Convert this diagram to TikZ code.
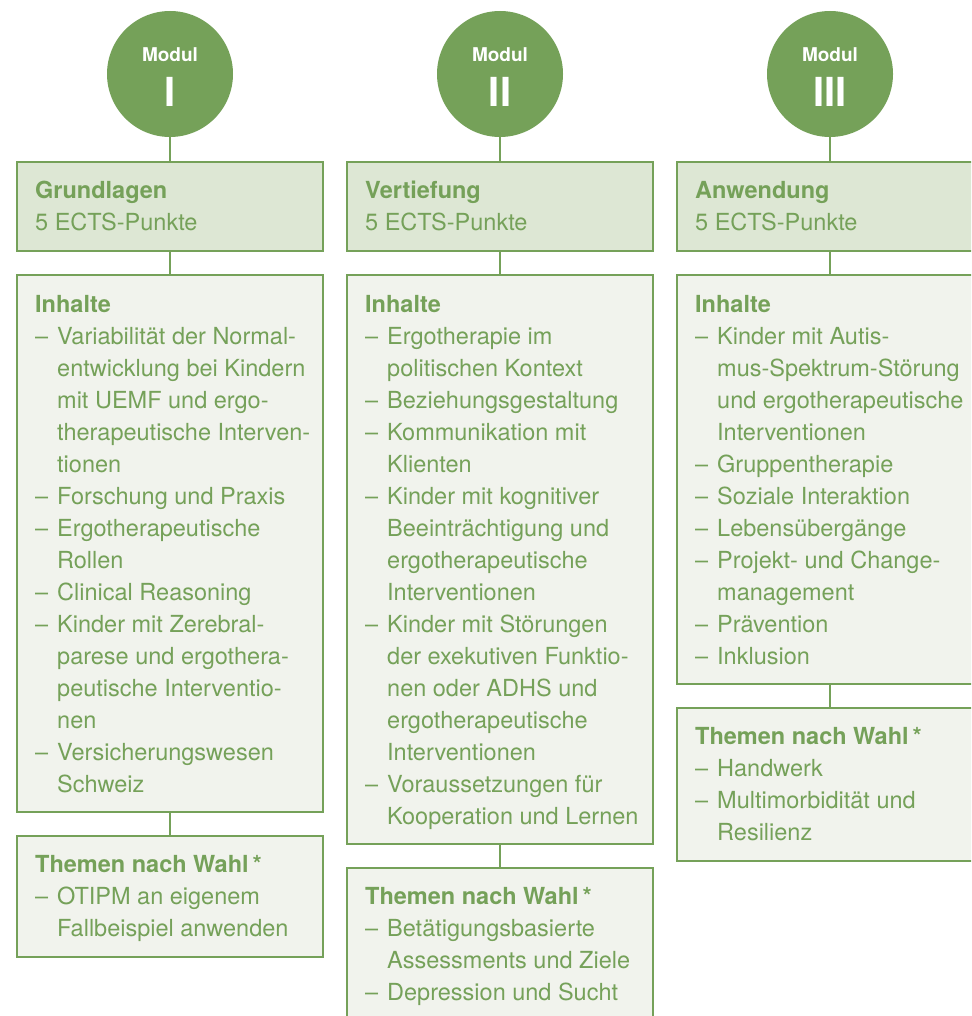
\documentclass[tikz,border=0pt]{standalone}
\usepackage{fontspec}
\setmainfont{TeX Gyre Heros}
\definecolor{mgreen}{RGB}{117,161,89}
\definecolor{hfill}{RGB}{221,231,212}
\definecolor{ifill}{RGB}{241,243,237}
\newcommand\ditem[1]{\makebox[22pt][l]{–}#1}
\newcommand\dcont[1]{\hspace*{22pt}#1}
\newcommand\boxtext[1]{\begin{minipage}[t]{300pt}\setlength\parindent{0pt}\fontsize{23.5pt}{32pt}\selectfont#1\end{minipage}}
\begin{document}
\begin{tikzpicture}[x=1pt,y=-1pt,
  circ/.style={circle, fill=mgreen, minimum size=126pt, inner sep=0pt, outer sep=0pt},
  hdr/.style={draw=mgreen, line width=2pt, fill=hfill, anchor=north west, minimum width=306pt, inner sep=0pt, outer sep=0pt},
  cbox/.style={hdr, fill=ifill},
  conn/.style={draw=mgreen, line width=2pt},
  txt/.style={anchor=base west, inner sep=0pt, text=mgreen},
  modl/.style={text=white, font=\fontsize{19pt}{20pt}\selectfont\bfseries, anchor=base, inner sep=0pt},
  modn/.style={text=white, font=\fontsize{40pt}{40pt}\selectfont\bfseries, anchor=base, inner sep=0pt}]
\useasboundingbox (0,0) rectangle (971,1016);
\clip (0,0) rectangle (971,1016);

% Column 1
\node[circ] (m1) at (170,74) {};
\node[modl] (m1a) at (170,62) {Modul};
\node[modn] (m1b) at (170,107) {I};
\node[hdr, minimum height=89pt] (h1) at (17,162) {};
\node[cbox, minimum height=537pt] (i1) at (17,275) {};
\node[cbox, minimum height=121pt] (t1) at (17,836) {};
\draw[conn] (m1.south) -- (h1.north);
\draw[conn] (h1.south) -- (i1.north);
\draw[conn] (i1.south) -- (t1.north);
\node[txt] (h1t) at ([xshift=18pt,yshift=-37pt]h1.north west) {\boxtext{\textbf{Grundlagen}\\5 ECTS-Punkte}};
\node[txt] (i1t) at ([xshift=18pt,yshift=-37pt]i1.north west) {\boxtext{\textbf{Inhalte}\\
\ditem{Variabilität der Normal-}\\
\dcont{entwicklung bei Kindern}\\
\dcont{mit UEMF und ergo-}\\
\dcont{therapeutische Interven-}\\
\dcont{tionen}\\
\ditem{Forschung und Praxis}\\
\ditem{Ergotherapeutische}\\
\dcont{Rollen}\\
\ditem{Clinical Reasoning}\\
\ditem{Kinder mit Zerebral-}\\
\dcont{parese und ergothera-}\\
\dcont{peutische Interventio-}\\
\dcont{nen}\\
\ditem{Versicherungswesen}\\
\dcont{Schweiz}}};
\node[txt] (t1t) at ([xshift=18pt,yshift=-36pt]t1.north west) {\boxtext{\textbf{Themen nach Wahl\,*}\\
\ditem{OTIPM an eigenem}\\
\dcont{Fallbeispiel anwenden}}};

% Column 2
\node[circ] (m2) at (500,74) {};
\node[modl] (m2a) at (500,62) {Modul};
\node[modn] (m2b) at (500,107) {II};
\node[hdr, minimum height=89pt] (h2) at (347,162) {};
\node[cbox, minimum height=569pt] (i2) at (347,275) {};
\node[cbox, minimum height=153pt] (t2) at (347,868) {};
\draw[conn] (m2.south) -- (h2.north);
\draw[conn] (h2.south) -- (i2.north);
\draw[conn] (i2.south) -- (t2.north);
\node[txt] (h2t) at ([xshift=18pt,yshift=-37pt]h2.north west) {\boxtext{\textbf{Vertiefung}\\5 ECTS-Punkte}};
\node[txt] (i2t) at ([xshift=18pt,yshift=-37pt]i2.north west) {\boxtext{\textbf{Inhalte}\\
\ditem{Ergotherapie im}\\
\dcont{politischen Kontext}\\
\ditem{Beziehungsgestaltung}\\
\ditem{Kommunikation mit}\\
\dcont{Klienten}\\
\ditem{Kinder mit kognitiver}\\
\dcont{Beeinträchtigung und}\\
\dcont{ergotherapeutische}\\
\dcont{Interventionen}\\
\ditem{Kinder mit Störungen}\\
\dcont{der exekutiven Funktio-}\\
\dcont{nen oder ADHS und}\\
\dcont{ergotherapeutische}\\
\dcont{Interventionen}\\
\ditem{Voraussetzungen für}\\
\dcont{Kooperation und Lernen}}};
\node[txt] (t2t) at ([xshift=18pt,yshift=-36pt]t2.north west) {\boxtext{\textbf{Themen nach Wahl\,*}\\
\ditem{Betätigungsbasierte}\\
\dcont{Assessments und Ziele}\\
\ditem{Depression und Sucht}}};

% Column 3
\node[circ] (m3) at (830,74) {};
\node[modl] (m3a) at (830,62) {Modul};
\node[modn] (m3b) at (830,107) {III};
\node[hdr, minimum height=89pt] (h3) at (677,162) {};
\node[cbox, minimum height=409pt] (i3) at (677,275) {};
\node[cbox, minimum height=153pt] (t3) at (677,708) {};
\draw[conn] (m3.south) -- (h3.north);
\draw[conn] (h3.south) -- (i3.north);
\draw[conn] (i3.south) -- (t3.north);
\node[txt] (h3t) at ([xshift=18pt,yshift=-37pt]h3.north west) {\boxtext{\textbf{Anwendung}\\5 ECTS-Punkte}};
\node[txt] (i3t) at ([xshift=18pt,yshift=-37pt]i3.north west) {\boxtext{\textbf{Inhalte}\\
\ditem{Kinder mit Autis-}\\
\dcont{mus-Spektrum-Störung}\\
\dcont{und ergotherapeutische}\\
\dcont{Interventionen}\\
\ditem{Gruppentherapie}\\
\ditem{Soziale Interaktion}\\
\ditem{Lebensübergänge}\\
\ditem{Projekt- und Change-}\\
\dcont{management}\\
\ditem{Prävention}\\
\ditem{Inklusion}}};
\node[txt] (t3t) at ([xshift=18pt,yshift=-36pt]t3.north west) {\boxtext{\textbf{Themen nach Wahl\,*}\\
\ditem{Handwerk}\\
\ditem{Multimorbidität und}\\
\dcont{Resilienz}}};
\end{tikzpicture}
\end{document}
